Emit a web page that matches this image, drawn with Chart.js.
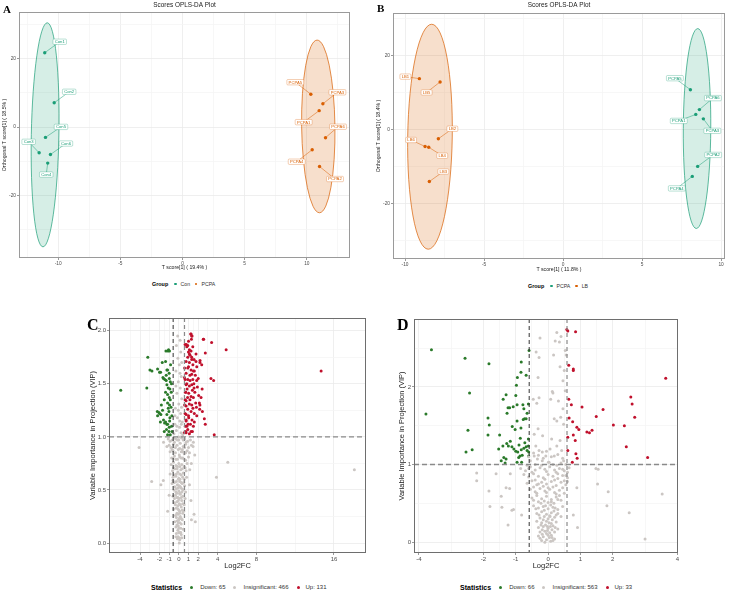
<!DOCTYPE html>
<html>
<head>
<meta charset="utf-8">
<script src="https://cdn.jsdelivr.net/npm/chart.js@4.4.1/dist/chart.umd.min.js"></script>
<style>
  body { margin: 0; width: 729px; height: 592px; position: relative; overflow: hidden; background: #fff;
         font-family: "Liberation Sans", Arial, sans-serif; }
  canvas { position: absolute; }
  .tag { position: absolute; font-family: "Liberation Serif", "DejaVu Serif", serif; font-weight: bold;
         line-height: 1; color: #000; z-index: 2; }
  .legend { position: absolute; display: flex; align-items: center; white-space: nowrap; color: #333; z-index: 2; }
  .legend b { color: #000; }
  .dot { display: inline-block; border-radius: 50%; }
</style>
</head>
<body>
<canvas id="scores-a" width="355" height="272" style="left:0;top:0"></canvas>
<canvas id="scores-b" width="355" height="274" style="left:374px;top:0"></canvas>
<canvas id="volcano-c" width="286" height="266" style="left:84px;top:308px"></canvas>
<canvas id="volcano-d" width="290" height="266" style="left:394px;top:308px"></canvas>

<div class="tag" style="left:3px;top:3.5px;font-size:11px">A</div>
<div class="tag" style="left:377px;top:3px;font-size:11px">B</div>
<div class="tag" style="left:87px;top:317px;font-size:16px">C</div>
<div class="tag" style="left:397px;top:316.5px;font-size:16px">D</div>

<div class="legend" style="left:152px;top:281px;height:6px;font-size:5.2px">
  <b style="font-size:5.4px">Group</b>
  <span class="dot" style="width:2.4px;height:2.4px;margin:0 4px 0 6px;background:#1B9E77"></span>Con
  <span class="dot" style="width:2.4px;height:2.4px;margin:0 4px 0 5px;background:#D95F02"></span>PCPA
</div>
<div class="legend" style="left:528px;top:283px;height:6px;font-size:5.2px">
  <b style="font-size:5.4px">Group</b>
  <span class="dot" style="width:2.4px;height:2.4px;margin:0 4px 0 6px;background:#1B9E77"></span>PCPA
  <span class="dot" style="width:2.4px;height:2.4px;margin:0 4px 0 5px;background:#D95F02"></span>LB
</div>
<div class="legend" style="left:151px;top:583px;height:8px;font-size:6px">
  <b style="font-size:7px">Statistics</b>
  <span class="dot" style="width:3px;height:3px;margin:0 7px 0 8px;background:#2A7A2A"></span>Down: 65
  <span class="dot" style="width:3px;height:3px;margin:0 7px 0 8px;background:#CBC6C3"></span>Insignificant: 466
  <span class="dot" style="width:3px;height:3px;margin:0 6px 0 8px;background:#C0102C"></span>Up: 131
</div>
<div class="legend" style="left:460px;top:583px;height:8px;font-size:6px">
  <b style="font-size:7px">Statistics</b>
  <span class="dot" style="width:3px;height:3px;margin:0 7px 0 8px;background:#2A7A2A"></span>Down: 66
  <span class="dot" style="width:3px;height:3px;margin:0 7px 0 8px;background:#CBC6C3"></span>Insignificant: 563
  <span class="dot" style="width:3px;height:3px;margin:0 6px 0 8px;background:#C0102C"></span>Up: 33
</div>

<script>
// ---- A: OPLS-DA scores, Con vs PCPA ----
const aConNames  = ['Con1', 'Con2', 'Con5', 'Con3', 'Con6', 'Con4'];
const aConT      = [-11.08, -10.32, -11.02, -11.53, -10.62, -10.84];
const aConOrth   = [21.7, 7.1, -3.0, -7.5, -8.0, -10.5];
const aPcpaNames = ['PCPA5', 'PCPA3', 'PCPA1', 'PCPA6', 'PCPA4', 'PCPA2'];
const aPcpaT     = [10.32, 11.29, 10.99, 11.5, 10.43, 11.02];
const aPcpaOrth  = [9.6, 6.8, 4.8, -3.1, -6.6, -11.5];
// confidence ellipses: centre T, centre orth, half-width, half-height
const aConEllipse  = [-11.05, -2.25, 1.11, 32.7];
const aPcpaEllipse = [10.92, 0.2, 1.34, 25.2];
const aXTicks = [-10, -5, 0, 5, 10];
const aYTicks = [-20, 0, 20];

// ---- B: OPLS-DA scores, PCPA vs LB ----
const bPcpaNames = ['PCPA5', 'PCPA6', 'PCPA1', 'PCPA3', 'PCPA2', 'PCPA4'];
const bPcpaT     = [8.06, 8.63, 8.40, 8.88, 8.52, 8.18];
const bPcpaOrth  = [10.8, 5.4, 4.1, 2.9, -10.0, -12.7];
const bLbNames   = ['LB1', 'LB5', 'LB2', 'LB6', 'LB4', 'LB3'];
const bLbT       = [-9.09, -7.78, -7.89, -8.73, -8.5, -8.46];
const bLbOrth    = [13.8, 12.9, -2.5, -4.6, -4.8, -14.1];
const bPcpaEllipse = [8.48, 0.27, 0.87, 27.1];
const bLbEllipse   = [-8.42, -1.95, 1.41, 30.5];
const bXTicks = [-10, -5, 0, 5, 10];
const bYTicks = [-20, 0, 20];

// ---- C: volcano (log2FC, VIP) ----
const cDown = [[-5.99,1.44],[-3.2,1.75],[-3.3,1.46],[-2.98,1.63],[-2.77,1.62],[-1.71,1.70],[-1.88,1.61],
  [-1.23,1.63],[-1.13,1.81],[-0.96,1.81],[-1.37,1.71],[-1.16,1.63],[-1.0,1.60],[-1.64,1.56],[-1.44,1.54],
  [-1.30,1.53],[-0.98,1.55],[-0.88,1.52],[-1.23,1.49],[-1.09,1.46],[-0.92,1.45],[-1.37,1.42],[-1.16,1.40],
  [-0.99,1.37],[-0.88,1.35],[-1.16,1.32],[-0.96,1.30],[-1.09,1.27],[-1.02,1.24],[-1.23,1.21],[-0.92,1.18],
  [-2.05,1.23],[-2.19,1.20],[-1.85,1.21],[-1.58,1.16],[-1.37,1.14],[-1.16,1.12],[-0.99,1.09],[-1.27,1.07],
  [-1.02,1.05],[-0.88,1.02],[-1.16,1.02],[-2.22,1.24],[-1.99,1.22],[-1.68,1.25],[-1.47,1.13],[-1.23,1.12],
  [-2.19,1.64],[-1.99,1.61],[-1.30,1.58],[-1.58,1.55],[-1.33,1.81],[-1.06,1.82],[-0.75,1.10],[-0.8,1.28],
  [-0.78,1.42],[-0.72,1.2],[-0.7,1.05],[-0.76,1.5],[-1.5,1.35],[-1.8,1.3],[-0.85,1.68],[-1.5,1.05],
  [-1.9,1.14],[-0.95,1.15]];
const cUp = [[1.26,1.97],[1.33,1.95],[2.56,1.92],[3.38,1.89],[4.88,1.82],[0.78,1.87],[0.92,1.86],[1.09,1.82],
  [1.26,1.81],[1.44,1.85],[2.73,1.79],[1.09,1.78],[0.92,1.75],[1.33,1.75],[1.57,1.73],[0.75,1.71],[1.09,1.70],
  [1.77,1.71],[2.19,1.72],[2.36,1.68],[0.92,1.65],[1.26,1.63],[1.50,1.62],[0.75,1.60],[1.33,1.59],[0.58,1.56],
  [0.92,1.54],[1.16,1.53],[1.44,1.54],[1.84,1.53],[3.31,1.55],[3.59,1.53],[0.75,1.49],[1.09,1.48],[1.33,1.49],
  [1.57,1.46],[1.91,1.47],[0.68,1.42],[1.02,1.41],[1.26,1.38],[1.50,1.37],[2.05,1.39],[2.29,1.37],[0.75,1.34],
  [1.09,1.31],[1.33,1.30],[1.74,1.32],[1.81,1.28],[0.92,1.26],[1.26,1.24],[1.60,1.22],[0.75,1.21],[2.15,1.26],
  [2.43,1.24],[1.02,1.18],[1.36,1.16],[0.75,1.15],[1.60,1.14],[2.63,1.17],[2.73,1.12],[0.68,1.10],[0.92,1.07],
  [1.26,1.05],[0.75,1.04],[0.55,1.04],[1.09,1.03],[3.65,1.02],[1.23,1.97],[1.36,1.95],[1.30,1.92],[2.52,1.92],
  [14.67,1.62],[2.12,1.32],[2.18,1.30],[1.77,1.78],[2.18,1.70],[1.85,1.66],[1.60,1.62],[0.65,1.87],[0.82,1.85],
  [0.99,1.80],[1.16,1.77],[1.33,1.73],[0.65,1.54],[0.82,1.50],[0.72,1.42],[0.65,1.35],[0.75,1.29],[0.65,1.22],
  [0.75,1.16],[0.82,1.10],[0.72,1.05],[1.45,1.68],[1.0,1.66],[1.7,1.58],[1.15,1.58],[1.4,1.44],[0.85,1.45],
  [1.65,1.42],[1.15,1.35],[0.9,1.37],[1.45,1.27],[1.0,1.2],[1.2,1.12],[1.5,1.1],[1.85,1.2],[0.95,1.12],
  [1.4,1.05],[2.0,1.55],[2.4,1.45],[1.0,1.9],[0.6,1.65],[1.55,1.5],[0.6,1.3]];
const cInsig = [[0.13,1.91],[-0.25,1.86],[0.2,1.8],[-0.1,1.74],[0.05,1.68],[-0.3,1.62],[0.25,1.57],[-0.05,1.52],
  [0.15,1.46],[-0.2,1.41],[0.3,1.36],[0.0,1.31],[-0.35,1.27],[0.18,1.22],[-0.15,1.18],[0.35,1.14],[-0.4,1.12],
  [0.08,1.09],[-0.25,1.06],[0.22,1.04],[-0.5,1.03],[0.4,1.02],[0.1,1.15],[-0.05,1.25],[0.28,1.28],[-0.3,1.48],
  [0.12,1.6],[-0.12,1.95],[0.3,1.7],[-0.4,1.2],
  [-1.58,0.95],[-1.23,0.91],[-1.1,0.98],[-0.9,0.96],[-0.7,0.97],[-0.5,0.99],[-0.3,0.98],[0.0,0.97],[0.3,0.99],
  [0.6,0.98],[0.9,0.96],[1.2,0.97],[1.5,0.95],[-1.0,0.92],[-0.8,0.9],[-0.55,0.93],[-0.2,0.92],[0.15,0.94],
  [0.45,0.91],[0.7,0.93],[1.0,0.9],[1.3,0.92],[-0.9,0.86],[-0.6,0.87],[-0.35,0.85],[-0.05,0.88],[0.25,0.86],
  [0.55,0.84],[0.85,0.87],[1.1,0.85],[1.47,0.91],[-0.75,0.8],[-0.45,0.82],[-0.15,0.79],[0.1,0.81],[0.4,0.8],
  [0.7,0.78],[1.0,0.81],[1.64,0.83],[-0.8,0.74],[-0.55,0.76],[-0.3,0.73],[0.0,0.75],[0.3,0.74],[0.55,0.72],
  [0.85,0.75],[1.29,0.75],[-0.65,0.68],[-0.4,0.7],[-0.1,0.67],[0.2,0.69],[0.45,0.66],[0.75,0.68],[1.13,0.69],
  [-0.6,0.62],[-0.3,0.63],[0.0,0.61],[0.25,0.64],[0.55,0.6],[0.8,0.62],[-0.7,0.56],[-0.45,0.57],[-0.15,0.55],
  [0.1,0.58],[0.35,0.56],[0.6,0.54],[-0.5,0.5],[-0.25,0.51],[0.0,0.49],[0.2,0.52],[0.45,0.5],[0.7,0.48],
  [-0.6,0.44],[-0.35,0.45],[-0.1,0.43],[0.15,0.46],[0.4,0.44],[0.65,0.42],[-0.45,0.38],[-0.2,0.39],[0.05,0.37],
  [0.3,0.4],[0.55,0.36],[-0.5,0.32],[-0.25,0.33],[0.0,0.31],[0.25,0.34],[0.5,0.3],[-0.35,0.26],[-0.1,0.27],
  [0.15,0.25],[0.4,0.28],[-0.4,0.2],[-0.15,0.21],[0.1,0.19],[0.35,0.22],[-0.3,0.15],[-0.05,0.16],[0.2,0.14],
  [0.45,0.13],[-0.25,0.09],[0.0,0.1],[0.25,0.08],[-0.15,0.04],[0.1,0.03],[0.3,0.05],[-0.3,0.06],[0.05,0.0],
  [-0.2,0.7],[0.1,0.72],[-0.05,0.6],[0.15,0.53],[-0.2,0.47],[0.05,0.42],[-0.1,0.35],[0.1,0.3],[-0.2,0.28],
  [0.05,0.23],[-0.1,0.12],[0.15,0.1],[-0.35,0.9],[0.35,0.88],[0.6,0.9],[-0.6,0.8],
  [-0.45,0.95],[-0.15,0.97],[0.45,0.97],[0.75,0.95],[-0.7,0.88],[0.1,0.89],[0.4,0.86],[0.7,0.85],[-0.3,0.79],
  [0.25,0.8],[0.55,0.79],[-0.55,0.71],[-0.15,0.72],[0.35,0.7],[0.65,0.71],[-0.45,0.64],[0.1,0.65],[0.4,0.62],
  [-0.6,0.59],[-0.25,0.58],[0.25,0.57],[0.5,0.57],[-0.4,0.53],[0.05,0.54],[0.35,0.51],[-0.3,0.48],[0.1,0.47],
  [0.3,0.48],[-0.45,0.42],[-0.2,0.43],[0.25,0.43],[-0.35,0.36],[0.15,0.36],[0.4,0.37],[-0.1,0.32],[0.35,0.31],
  [-0.25,0.24],[0.25,0.23],[0.0,0.22],[-0.2,0.17],[0.25,0.18],[0.0,0.14],[-0.1,0.06],[0.2,0.1],[0.05,0.05],
  [-0.05,0.19],[0.08,0.28],[-0.05,0.4],[-0.08,0.52],[0.12,0.6],[-0.25,0.65],[0.05,0.83],[-0.05,1.0],[0.15,1.0],
  [-0.2,1.1],[0.25,1.12],
  [-4.1,0.9],[-2.8,0.58],[-1.85,0.55],[-1.6,0.59],[-1.15,0.3],[5.05,0.76],[3.88,0.62],[1.57,0.27],[1.3,0.22],
  [1.7,0.2],[18.1,0.69],[-1.0,0.45],[1.1,0.55],[-0.9,0.65],[1.25,0.4]];
const cXTicks = [-4, -2, -1, 0, 1, 2, 4, 8, 16];
const cYTicks = [0, 0.5, 1, 1.5, 2];

// ---- D: volcano (log2FC, VIP) ----
const dDown = [[-3.61,2.48],[-2.57,2.37],[-1.83,2.30],[-0.59,2.47],[-0.83,2.32],[-0.84,2.19],[-0.95,2.12],
  [-0.68,2.15],[-0.98,2.02],[-2.43,1.92],[-3.78,1.65],[-1.30,1.90],[-1.39,1.84],[-1.00,1.89],[-1.24,1.73],
  [-1.19,1.73],[-1.08,1.745],[-0.96,1.77],[-0.78,1.77],[-0.61,1.78],[-0.75,1.72],[-0.65,1.66],[-1.27,1.66],
  [-1.86,1.60],[-0.73,1.59],[-0.68,1.59],[-0.77,1.58],[-0.96,1.56],[-1.82,1.51],[-1.11,1.49],[-0.84,1.47],
  [-2.48,1.44],[-1.86,1.38],[-1.50,1.38],[-0.86,1.34],[-0.61,1.33],[-1.17,1.30],[-1.28,1.27],[-1.23,1.24],
  [-1.40,1.24],[-1.53,1.20],[-1.12,1.23],[-1.06,1.20],[-1.00,1.17],[-2.35,1.19],[-2.54,1.16],[-0.83,1.19],
  [-0.75,1.21],[-0.68,1.23],[-0.61,1.24],[-0.65,1.18],[-0.94,1.16],[-0.87,1.11],[-0.80,1.12],[-0.91,1.09],
  [-0.82,1.03],[-0.96,1.03],[-1.37,1.09],[-1.30,1.07],[-1.33,1.02],[-0.60,1.11],[-0.60,1.16],[-1.02,1.45],
  [-0.72,1.28],[-1.45,1.05],[-0.9,1.25]];
const dUp = [[0.58,2.74],[0.61,2.72],[0.85,2.71],[0.64,2.28],[0.78,2.23],[0.78,2.21],[3.64,2.11],[2.56,1.87],
  [2.60,1.78],[0.64,1.84],[0.72,1.77],[1.05,1.74],[1.70,1.71],[1.49,1.62],[2.68,1.61],[0.65,1.60],[0.76,1.55],
  [2.02,1.51],[2.36,1.50],[0.89,1.48],[0.95,1.45],[1.20,1.42],[1.28,1.41],[1.36,1.44],[0.61,1.35],[0.78,1.38],
  [0.84,1.31],[2.42,1.23],[0.61,1.18],[0.86,1.14],[3.08,1.09],[0.90,1.08],[0.75,1.03]];
const dInsig = [[0.27,2.7],[0.22,2.59],[0.35,2.58],[0.4,2.65],[0.17,2.41],[0.53,2.47],[0.56,2.41],[0.37,2.26],
  [0.5,2.21],[0.46,2.08],[0.15,1.92],[0.53,1.95],[0.32,1.82],[0.46,1.72],[0.19,1.59],[0.27,1.56],[0.39,1.61],
  [0.48,1.52],[-0.17,1.37],[0.11,1.33],[0.37,1.31],[0.27,1.24],[0.06,1.2],[0.42,1.18],[0.19,1.11],[0.48,1.05],
  [0.01,1.03],[0.27,0.99],[-0.25,2.63],[-0.37,2.45],[-0.28,2.38],[-0.31,2.12],[-0.28,1.86],[-0.46,1.84],
  [-0.35,1.79],[0.08,1.84],[0.13,1.94],[-0.31,1.46],[-0.43,1.39],[-0.38,1.24],[-0.28,1.18],[-0.18,1.16],
  [-0.07,1.11],[-0.43,1.11],[-0.33,1.07],[-0.18,1.05],[0.03,1.03],
  [-2.21,0.89],[-2.21,0.79],[-1.61,0.88],[-1.83,0.66],[-1.8,0.46],[-1.45,0.59],[-1.43,0.45],[-1.3,0.7],
  [-1.19,0.69],[-1.12,0.41],[-1.07,0.42],[-1.24,0.22],[-1.17,0.88],[-0.82,0.35],[1.53,0.75],[1.86,0.65],
  [1.82,0.47],[2.51,0.38],[3.53,0.62],[3.0,0.04],[0.91,0.19],[0.78,0.35],[0.89,0.7],[1.48,0.95],[1.55,0.94],
  [0.55,0.86],[0.6,0.78],
  [-0.85,0.95],[-0.7,0.92],[-0.55,0.97],[-0.4,0.93],[-0.25,0.96],[-0.1,0.94],[0.05,0.97],[0.2,0.93],[0.35,0.95],
  [0.5,0.92],[0.65,0.96],[-0.6,1.1],[-0.45,1.15],[-0.3,1.12],[-0.55,1.05],[-0.15,1.08],[0.1,1.1],[0.3,1.13],
  [-0.05,1.17],[0.45,1.08],[-0.65,0.99],[0.55,1.0],[-0.75,0.87],[-0.6,0.84],[-0.45,0.88],[-0.3,0.85],
  [-0.15,0.83],[0.0,0.87],[0.15,0.85],[0.3,0.82],[0.45,0.86],[0.6,0.83],[-0.65,0.76],[-0.5,0.79],[-0.35,0.74],
  [-0.2,0.77],[-0.05,0.75],[0.1,0.78],[0.25,0.73],[0.4,0.77],[0.55,0.74],[-0.55,0.68],[-0.4,0.65],[-0.25,0.69],
  [-0.1,0.66],[0.05,0.68],[0.2,0.64],[0.35,0.67],[0.5,0.63],[-0.5,0.57],[-0.35,0.6],[-0.2,0.56],[-0.05,0.59],
  [0.1,0.55],[0.25,0.58],[0.4,0.54],[-0.3,0.52],[0.0,0.51],[0.18,0.5],[-0.45,0.47],[-0.3,0.44],[-0.15,0.46],
  [0.0,0.43],[0.15,0.45],[0.3,0.42],[0.45,0.46],[-0.35,0.37],[-0.2,0.39],[-0.05,0.36],[0.1,0.38],[0.25,0.35],
  [0.4,0.33],[-0.25,0.31],[0.0,0.3],[0.2,0.32],[-0.35,0.27],[-0.2,0.25],[-0.05,0.27],[0.1,0.24],[0.25,0.26],
  [-0.3,0.19],[-0.15,0.2],[0.0,0.18],[0.15,0.21],[0.3,0.17],[-0.25,0.13],[-0.1,0.14],[0.05,0.12],[0.2,0.13],
  [-0.3,0.08],[-0.15,0.07],[0.0,0.09],[0.12,0.06],[-0.2,0.02],[-0.05,0.03],[0.08,0.01],[0.2,0.04],[-0.1,0.0],
  [-0.08,0.22],[0.06,0.33],[-0.12,0.41],[0.08,0.48],[-0.02,0.2],[0.12,0.16],[-0.18,0.1],[0.04,0.06],
  [-0.4,1.0],[-0.2,0.99],[0.15,1.0],[0.4,1.02],[-0.5,0.9],[-0.05,0.91],[0.25,0.9],[0.45,0.94],[-0.4,0.8],
  [-0.1,0.81],[0.2,0.8],[0.5,0.79],[-0.45,0.71],[-0.15,0.72],[0.15,0.71],[0.45,0.7],[-0.35,0.63],[-0.05,0.64],
  [0.25,0.62],[-0.45,0.54],[-0.12,0.53],[0.1,0.52],[0.3,0.55],[-0.38,0.43],[-0.08,0.47],[0.22,0.44],
  [-0.28,0.35],[0.05,0.34],[0.3,0.37],[-0.15,0.29],[0.13,0.29],[-0.22,0.22],[0.07,0.2],[0.22,0.19],[-0.18,0.16],
  [-0.05,0.11],[0.1,0.09],[-0.25,0.05],[0.15,0.02],[-0.02,0.15],[0.03,0.25],[-0.12,0.33],[0.18,0.4],[-0.22,0.5],
  [0.35,0.6],[-0.3,0.75],[0.3,0.88],[-0.6,0.95],[0.6,0.9],[0.0,0.7]];
const dXTicks = [-4, -2, -1, 0, 1, 2, 4];
const dYTicks = [0, 1, 2];

const FC_CUT = 0.585;   // |log2FC| threshold
const VIP_CUT = 1;

// ---- styling ----
const FONT = '"Liberation Sans", Arial, sans-serif';
const GREEN = '#1B9E77', ORANGE = '#D95F02';
const DOWN = '#2A7A2A', UP = '#C0102C', GREY = '#CBC6C3';
Chart.defaults.font.family = FONT;

// label nudges (px) for the sample tags
const aNudge = { Con1: [15, -11], Con2: [15, -11], Con5: [15.5, -10.5], Con3: [-10.5, -11], Con6: [15.5, -11],
  Con4: [-1.5, 11.5], PCPA5: [-15.5, -12], PCPA3: [14.5, -11.5], PCPA1: [-15.5, 11.5], PCPA6: [12.5, -11],
  PCPA4: [-15.5, 12], PCPA2: [15.5, 12.5] };
const bNudge = { LB1: [-14, -2], LB5: [-13.5, 10.5], LB2: [14, -10], LB6: [-14, -6.5], LB4: [13.5, 8.5],
  LB3: [14, -10], PCPA5: [-15.5, -11.5], PCPA6: [13.5, -11.5], PCPA1: [-17, 6.5], PCPA3: [9, 12],
  PCPA2: [15.5, -11.5], PCPA4: [-15.5, 12] };

function minorsOf(major, min, max) {
  const out = [];
  for (let i = 0; i < major.length - 1; i++) out.push((major[i] + major[i + 1]) / 2);
  const n = major.length;
  [major[0] - (major[1] - major[0]) / 2, major[n - 1] + (major[n - 1] - major[n - 2]) / 2]
    .forEach(v => { if (v > min && v < max) out.push(v); });
  return out;
}

function axis(o) {
  const minors = minorsOf(o.ticks, o.min, o.max);
  const isMajor = v => o.ticks.some(t => Math.abs(t - v) < 1e-9);
  return {
    type: 'linear', min: o.min, max: o.max,
    afterBuildTicks: s => { s.ticks = [...o.ticks, ...minors].sort((a, b) => a - b).map(v => ({ value: v })); },
    afterFit: s => { if (s.isHorizontal()) s.height = o.size; else s.width = o.size; },
    ticks: { autoSkip: false, maxRotation: 0, padding: 1, color: '#4D4D4D', font: { size: o.tickSize },
             callback: v => isMajor(v) ? o.fmt(v) : '' },
    grid: {
      color: c => (c.tick && isMajor(c.tick.value)) ? '#EBEBEB' : '#F5F5F5',
      lineWidth: 0.8, tickLength: 2, tickWidth: 0.6,
      tickColor: c => (c.tick && isMajor(c.tick.value)) ? '#555' : 'rgba(0,0,0,0)',
    },
    border: { display: false },
    title: { display: true, text: o.title, color: '#1A1A1A', font: { size: o.titleSize }, padding: o.titlePad },
  };
}

const framePlugin = {
  id: 'frame',
  afterDraw(chart, args, opts) {
    const { ctx, chartArea: a } = chart;
    ctx.save();
    ctx.strokeStyle = opts.color;
    ctx.lineWidth = 1;
    ctx.strokeRect(Math.round(a.left) + 0.5, Math.round(a.top) + 0.5, Math.round(a.width) - 1, Math.round(a.height) - 1);
    ctx.restore();
  },
};

const ellipsePlugin = {
  id: 'ellipses',
  beforeDatasetsDraw(chart) {
    const { ctx, scales: { x, y } } = chart;
    chart.data.datasets.forEach(ds => {
      if (!ds.ellipse) return;
      const [cx, cy, rx, ry] = ds.ellipse;
      const px = x.getPixelForValue(cx), py = y.getPixelForValue(cy);
      const prx = Math.abs(x.getPixelForValue(cx + rx) - px);
      const pry = Math.abs(y.getPixelForValue(cy + ry) - py);
      ctx.save();
      ctx.beginPath();
      ctx.ellipse(px, py, prx, pry, ds.tilt * Math.PI / 180, 0, Math.PI * 2);
      ctx.fillStyle = ds.shade;
      ctx.fill();
      ctx.strokeStyle = ds.backgroundColor;
      ctx.lineWidth = 0.7;
      ctx.stroke();
      ctx.restore();
    });
  },
};

const tagPlugin = {
  id: 'sampleTags',
  afterDatasetsDraw(chart, args, opts) {
    if (!opts.nudge) return;
    const ctx = chart.ctx;
    ctx.save();
    ctx.font = `4.2px ${FONT}`;
    ctx.textAlign = 'center';
    ctx.textBaseline = 'middle';
    chart.data.datasets.forEach((ds, di) => {
      const meta = chart.getDatasetMeta(di);
      ds.names.forEach((name, i) => {
        const el = meta.data[i];
        const [dx, dy] = opts.nudge[name];
        const bx = el.x + dx, by = el.y + dy;
        const w = ctx.measureText(name).width + 3.5, h = 5.4;
        ctx.strokeStyle = ds.backgroundColor;
        ctx.lineWidth = 0.5;
        ctx.beginPath(); ctx.moveTo(el.x, el.y); ctx.lineTo(bx, by); ctx.stroke();
        ctx.beginPath();
        ctx.roundRect(bx - w / 2, by - h / 2, w, h, 1);
        ctx.fillStyle = '#fff'; ctx.fill();
        ctx.globalAlpha = 0.6; ctx.stroke(); ctx.globalAlpha = 1;
        ctx.fillStyle = ds.backgroundColor;
        ctx.fillText(name, bx, by + 0.2);
      });
    });
    ctx.restore();
  },
};

const cutPlugin = {
  id: 'cuts',
  afterDatasetsDraw(chart, args, opts) {
    if (opts.fc === undefined) return;
    const { ctx, chartArea: a, scales: { x, y } } = chart;
    ctx.save();
    ctx.beginPath(); ctx.rect(a.left, a.top, a.width, a.height); ctx.clip();
    const line = (x0, y0, x1, y1, color, w, dash) => {
      ctx.strokeStyle = color; ctx.lineWidth = w; ctx.setLineDash(dash);
      ctx.beginPath(); ctx.moveTo(x0, y0); ctx.lineTo(x1, y1); ctx.stroke();
    };
    const yv = y.getPixelForValue(opts.vip);
    line(a.left, yv, a.right, yv, '#8A8A8A', 1.4, [5, 3]);
    const xl = x.getPixelForValue(-opts.fc), xr = x.getPixelForValue(opts.fc);
    line(xl, a.top, xl, a.bottom, '#333', 1, [4, 3]);
    line(xr, a.top, xr, a.bottom, '#8A8A8A', 1.2, [4, 3]);
    ctx.restore();
  },
};

Chart.register(framePlugin, ellipsePlugin, tagPlugin, cutPlugin);

function pts(xs, ys) { return xs.map((v, i) => ({ x: v, y: ys[i] })); }
function pairs(arr) { return arr.map(p => ({ x: p[0], y: p[1] })); }

function scoresChart(id, groups, p) {
  return new Chart(document.getElementById(id), {
    type: 'scatter',
    data: {
      datasets: groups.map(g => ({
        label: g.label, data: pts(g.t, g.orth), names: g.names, ellipse: g.ellipse, tilt: g.tilt,
        shade: g.shade, backgroundColor: g.color, borderWidth: 0, pointRadius: 1.7,
      })),
    },
    options: {
      responsive: false, animation: false, devicePixelRatio: 1,
      layout: { padding: { left: 0, right: p.padRight, top: 0, bottom: 0 } },
      plugins: {
        legend: { display: false }, tooltip: { enabled: false },
        title: { display: true, text: 'Scores OPLS-DA Plot', fullSize: false, color: '#1A1A1A',
                 font: { size: 6.4, weight: 'normal' }, padding: { top: p.titleTop, bottom: p.titleBottom } },
        frame: { color: '#9A9A9A' },
        sampleTags: { nudge: p.nudge },
      },
      scales: {
        x: axis({ min: p.xMin, max: p.xMax, ticks: p.xTicks, size: p.xSize, tickSize: 4.8, titleSize: 5.2,
                  title: p.xTitle, titlePad: { top: 0, bottom: 1.2 }, fmt: v => String(v) }),
        y: axis({ min: p.yMin, max: p.yMax, ticks: p.yTicks, size: 19, tickSize: 4.8, titleSize: 5.2,
                  title: p.yTitle, titlePad: { top: 1.5, bottom: 0 }, fmt: v => String(v) }),
      },
    },
  });
}

function volcanoChart(id, down, insig, up, p) {
  return new Chart(document.getElementById(id), {
    type: 'scatter',
    data: {
      datasets: [
        { label: 'Insignificant', data: pairs(insig), backgroundColor: GREY, borderWidth: 0, pointRadius: 1.5 },
        { label: 'Down', data: pairs(down), backgroundColor: DOWN, borderWidth: 0, pointRadius: 1.5 },
        { label: 'Up', data: pairs(up), backgroundColor: UP, borderWidth: 0, pointRadius: 1.5 },
      ],
    },
    options: {
      responsive: false, animation: false, devicePixelRatio: 1,
      layout: { padding: { left: 0, right: p.padRight, top: p.padTop, bottom: 0 } },
      plugins: {
        legend: { display: false }, tooltip: { enabled: false },
        frame: { color: '#6E6E6E' },
        cuts: { fc: FC_CUT, vip: VIP_CUT },
      },
      scales: {
        x: axis({ min: p.xMin, max: p.xMax, ticks: p.xTicks, size: 21, tickSize: 6, titleSize: 7.5,
                  title: 'Log2FC', titlePad: { top: 0, bottom: p.xTitleBottom }, fmt: v => String(v) }),
        y: axis({ min: p.yMin, max: p.yMax, ticks: p.yTicks, size: p.ySize, tickSize: 6, titleSize: 7.5,
                  title: 'Variable Importance in Projection (VIP)', titlePad: { top: p.yTitleTop, bottom: 0 },
                  fmt: p.yFmt }),
      },
    },
  });
}

scoresChart('scores-a', [
  { label: 'Con', names: aConNames, t: aConT, orth: aConOrth, ellipse: aConEllipse, tilt: 1.1,
    color: GREEN, shade: 'rgba(27,158,119,0.18)' },
  { label: 'PCPA', names: aPcpaNames, t: aPcpaT, orth: aPcpaOrth, ellipse: aPcpaEllipse, tilt: -0.8,
    color: ORANGE, shade: 'rgba(217,95,2,0.2)' },
], { xMin: -13.15, xMax: 13.47, yMin: -38.2, yMax: 33.6, xTicks: aXTicks, yTicks: aYTicks, xSize: 14,
     padRight: 5, titleTop: 1.2, titleBottom: 3.1, nudge: aNudge,
     xTitle: 'T score[1] ( 19.4% )', yTitle: 'Orthogonal T score[1] ( 18.5% )' });

scoresChart('scores-b', [
  { label: 'LB', names: bLbNames, t: bLbT, orth: bLbOrth, ellipse: bLbEllipse, tilt: 0.9,
    color: ORANGE, shade: 'rgba(217,95,2,0.2)' },
  { label: 'PCPA', names: bPcpaNames, t: bPcpaT, orth: bPcpaOrth, ellipse: bPcpaEllipse, tilt: 0.4,
    color: GREEN, shade: 'rgba(27,158,119,0.18)' },
], { xMin: -10.76, xMax: 10.25, yMin: -35.1, yMax: 31.6, xTicks: bXTicks, yTicks: bYTicks, xSize: 15,
     padRight: 4, titleTop: 1.6, titleBottom: 3.7, nudge: bNudge,
     xTitle: 'T score[1] ( 11.8% )', yTitle: 'Orthogonal T score[1] ( 18.4% )' });

volcanoChart('volcano-c', cDown, cInsig, cUp,
  { xMin: -7.2, xMax: 19.3, yMin: -0.094, yMax: 2.12, xTicks: cXTicks, yTicks: cYTicks,
    padRight: 3, padTop: 10, ySize: 25, yTitleTop: 4.5, xTitleBottom: 3.5, yFmt: v => v.toFixed(1) });

volcanoChart('volcano-d', dDown, dInsig, dUp,
  { xMin: -4.15, xMax: 4.02, yMin: -0.14, yMax: 2.875, xTicks: dXTicks, yTicks: dYTicks,
    padRight: 6, padTop: 11, ySize: 20, yTitleTop: 3.5, xTitleBottom: 4, yFmt: v => String(v) });
</script>
</body>
</html>
